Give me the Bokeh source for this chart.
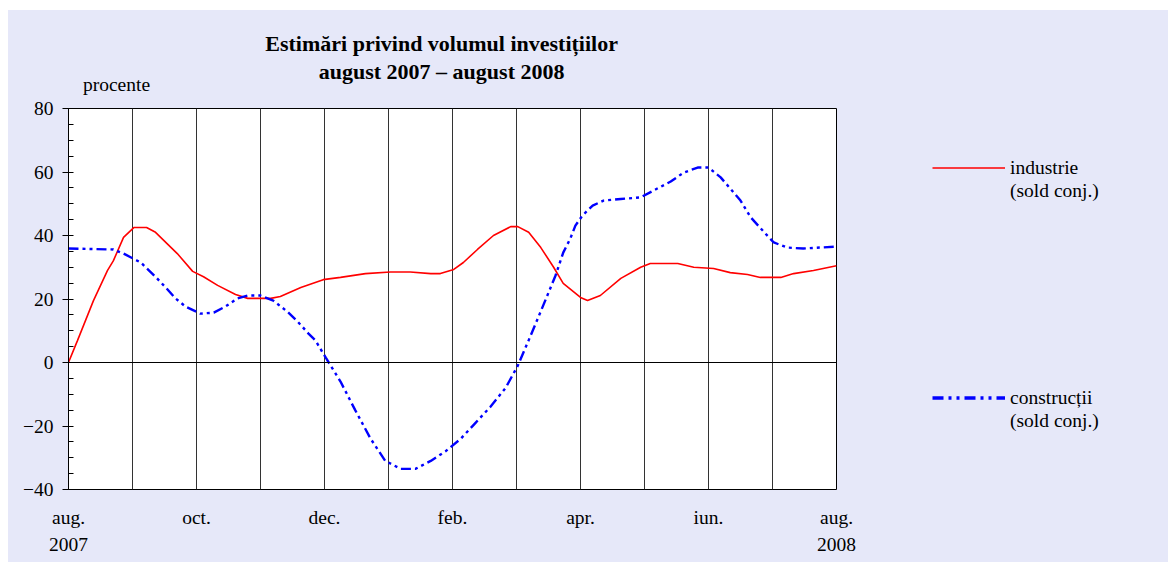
from bokeh.plotting import figure
from bokeh.layouts import row
from bokeh.models import Span, FixedTicker, LinearAxis, Legend, LegendItem, Range1d
from bokeh.embed import file_html
from bokeh.resources import INLINE

# month index (0 = aug 2007, 12 = aug 2008)
ind_x = [0.0, 0.14, 0.39, 0.61, 0.70, 0.86, 1.02, 1.22, 1.36, 1.70, 1.94, 2.11, 2.33, 2.61, 2.80, 3.16, 3.31,
         3.63, 3.98, 4.25, 4.64, 5.03, 5.34, 5.66, 5.81, 6.02, 6.17, 6.39, 6.64, 6.91, 7.02, 7.19, 7.38, 7.58,
         7.73, 8.0, 8.11, 8.31, 8.63, 8.94, 9.09, 9.52, 9.77, 10.08, 10.34, 10.61, 10.81, 11.13, 11.33, 11.64,
         12.0]
ind_val = [0, 6.9, 19.5, 29, 32, 39.4, 42.5, 42.5, 41, 34.3, 28.7, 27, 24.3, 21.4, 20.2, 20.2, 20.8,
           23.6, 26.1, 26.8, 28, 28.5, 28.5, 28, 28, 29.3, 31.5, 35.6, 40, 42.8, 42.8, 41, 36.2, 30,
           24.9, 20.5, 19.5, 21.1, 26.5, 30, 31.2, 31.2, 30, 29.6, 28.3, 27.7, 26.8, 26.8, 28, 29,
           30.5]
con_x = [0.0, 0.70, 0.86, 1.13, 1.36, 1.52, 1.67, 1.83, 2.06, 2.27, 2.45, 2.64, 2.80, 3.0, 3.20, 3.42, 3.58,
         3.75, 3.86, 4.02, 4.25, 4.48, 4.72, 4.95, 5.19, 5.42, 5.66, 5.89, 6.13, 6.36, 6.59, 6.83, 7.02, 7.19,
         7.34, 7.5, 7.61, 7.73, 7.84, 7.92, 8.03, 8.19, 8.36, 8.63, 8.94, 9.20, 9.41, 9.61, 9.83, 10.0, 10.19,
         10.34, 10.5, 10.66, 10.89, 11.02, 11.23, 11.48, 12.0]
con_val = [35.9, 35.6, 34.3, 31.5, 27, 23.6, 20.2, 17.6, 15.4, 15.7, 17.6, 20.2, 21.1, 21.1, 19.5, 16, 12.9,
           9.1, 6.9, 1.5, -6, -15, -24, -31, -33.5, -33.5, -31, -28, -24, -19, -14, -8, -1, 7,
           14.2, 22, 27.4, 34.6, 39, 43.1, 46.3, 49.4, 51, 51.5, 52, 54.8, 57, 59.8, 61.4, 61.4, 58.3,
           54.8, 51, 45.7, 40.6, 37.8, 36.2, 35.9, 36.5]

month_ticks = [0, 2, 4, 6, 8, 10, 12]
month_labels = ["aug.\n2007", "oct.", "dec.", "feb.", "apr.", "iun.", "aug.\n2008"]
y_ticks = [-40, -20, 0, 20, 40, 60, 80]

title_text = "Estimări privind volumul investițiilor\naugust 2007 – august 2008"
y_unit = "procente"
series_names = ["industrie", "construcții"]
series_sub = "(sold conj.)"

FONT = "Liberation Serif"
BG = "#e6e8f9"
FS = "19.5px"

p = figure(width=868, height=552, output_backend="svg", toolbar_location=None,
           x_range=(0, 12), y_range=(-40, 80),
           min_border_left=60, min_border_right=40, min_border_top=98, min_border_bottom=73)
p.border_fill_color = BG
p.background_fill_color = "white"
p.outline_line_color = "black"
p.outline_line_width = 1

# bottom axis: month labels
xa = p.xaxis[0]
xa.ticker = FixedTicker(ticks=month_ticks)
xa.major_label_overrides = {m: l for m, l in zip(month_ticks, month_labels)}
xa.major_label_text_font = FONT
xa.major_label_text_font_size = FS
xa.major_label_text_color = "black"
xa.major_label_text_line_height = 1.33
xa.major_tick_line_color = None
xa.minor_tick_line_color = None
xa.axis_line_color = None
xa.major_label_standoff = 11

p.ygrid.visible = False
p.xgrid.ticker = FixedTicker(ticks=list(range(13)))
p.xgrid.grid_line_color = "#333333"
p.xgrid.grid_line_width = 1

ya = p.yaxis[0]
ya.ticker = FixedTicker(ticks=y_ticks, minor_ticks=list(range(-40, 81, 5)))
ya.major_label_overrides = {-20: "\u221220", -40: "\u221240"}
ya.major_label_text_font = FONT
ya.major_label_text_font_size = FS
ya.major_label_text_color = "black"
ya.axis_line_color = "black"
ya.major_tick_line_color = "black"
ya.minor_tick_line_color = "black"
ya.major_tick_out = 6
ya.major_tick_in = 0
ya.minor_tick_in = 5
ya.minor_tick_out = 0
ya.major_label_standoff = 9

# "procente" (axis above, nearest the frame) and the title (second axis above)
ua = LinearAxis(ticker=FixedTicker(ticks=[0.75]), major_label_overrides={0.75: y_unit})
ta = LinearAxis(ticker=FixedTicker(ticks=[5.83]), major_label_overrides={5.83: title_text})
for ax in (ua, ta):
    ax.axis_line_color = None
    ax.major_tick_line_color = None
    ax.minor_tick_line_color = None
    ax.major_tick_out = 0
    ax.major_tick_in = 0
    ax.major_label_text_font = FONT
    ax.major_label_text_color = "black"
ua.major_label_text_font_size = FS
ua.major_label_standoff = 14
ta.major_label_text_font_size = "22px"
ta.major_label_text_font_style = "bold"
ta.major_label_text_line_height = 1.12
ta.major_label_standoff = -13
p.add_layout(ua, "above")
p.add_layout(ta, "above")

p.add_layout(Span(location=0, dimension="width", line_color="black", line_width=1))

p.line(ind_x, ind_val, line_color="red", line_width=1.6)
p.line(con_x, con_val, line_color="blue", line_width=2.4, line_dash="10 4 3 4 3 4")

# legend panel (a second, axis-less canvas to the right)
q = figure(width=292, height=552, output_backend="svg", toolbar_location=None,
           x_axis_type=None, y_axis_type=None, x_range=Range1d(0, 1), y_range=Range1d(0, 1),
           min_border=0)
q.border_fill_color = BG
q.background_fill_color = None
q.outline_line_color = None
q.grid.visible = False

nan = float("nan")
lg_ind = q.line([nan, nan], [nan, nan], line_color="red", line_width=1.6)
lg_con = q.line([nan, nan], [nan, nan], line_color="blue", line_width=3.5, line_dash="11 5 3 5 3 5")
lg_blank = q.line([nan, nan], [nan, nan], line_alpha=0)

items = [LegendItem(label=series_names[0], renderers=[lg_ind]),
         LegendItem(label=series_sub, renderers=[lg_blank])]
for _ in range(8):
    items.append(LegendItem(label="\u00a0", renderers=[lg_blank]))
items += [LegendItem(label=series_names[1], renderers=[lg_con]),
          LegendItem(label=series_sub, renderers=[lg_blank])]

leg = Legend(items=items, location=(56, 57), orientation="vertical")
if "ncols" in Legend.properties():
    leg.ncols = 1
leg.border_line_color = None
leg.background_fill_alpha = 0
leg.padding = 0
leg.margin = 0
leg.spacing = 0
leg.glyph_width = 73
leg.glyph_height = 23
leg.label_height = 23
leg.label_standoff = 5
leg.label_text_font = FONT
leg.label_text_font_size = FS
leg.label_text_color = "black"
q.add_layout(leg, "center")

layout = row(p, q, margin=(10, 0, 0, 8), styles={"background-color": BG})
open("out.html", "w").write(file_html(layout, INLINE))
